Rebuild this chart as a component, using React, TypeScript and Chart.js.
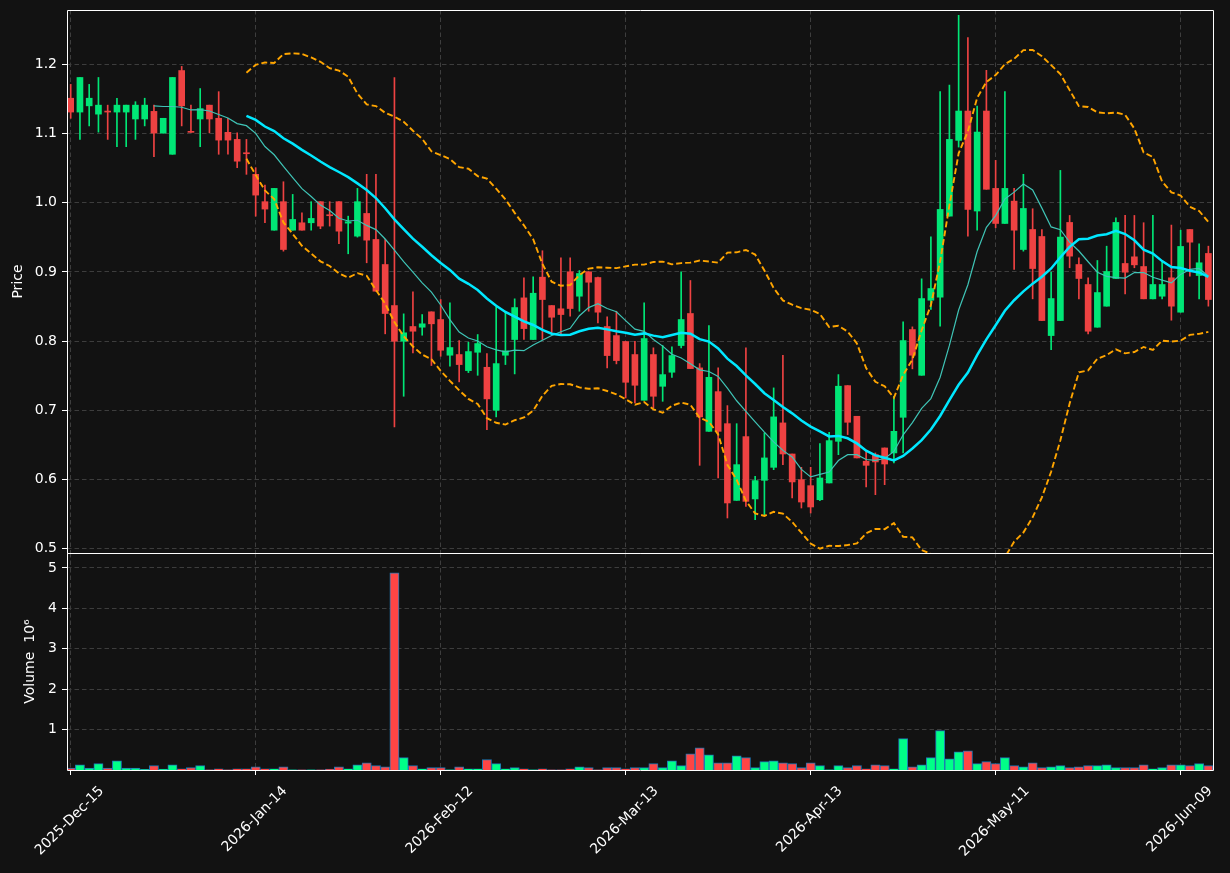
import React, { useEffect, useRef } from 'react';
import { Chart, registerables } from 'chart.js';

Chart.register(...registerables);

// ---------------- data ----------------
const opens = [
  1.151, 1.131, 1.140, 1.128, 1.132, 1.131, 1.131, 1.121, 1.121, 1.132,
  1.1006, 1.070, 1.191, 1.1025, 1.121, 1.141, 1.122, 1.1017, 1.0915, 1.071,
  1.041, 1.0015, 0.9603, 1.0015, 0.9603, 0.971, 0.971, 1.0015, 0.9818, 1.0015,
  0.9705, 0.9517, 0.9845, 0.9469, 0.9107, 0.8514, 0.7998, 0.8211, 0.8201, 0.8423,
  0.8312, 0.7796, 0.7806, 0.7574, 0.7839, 0.7622, 0.700, 0.7796, 0.8023, 0.8625,
  0.8023, 0.8924, 0.8514, 0.8467, 0.9002, 0.8649, 0.9002, 0.8919, 0.8211, 0.808,
  0.7994, 0.7806, 0.7145, 0.7806, 0.7347, 0.755, 0.7936, 0.8399, 0.7613, 0.6696,
  0.727, 0.6807, 0.5698, 0.662, 0.5719, 0.5988, 0.6176, 0.6818, 0.6369, 0.5998,
  0.5911, 0.5708, 0.595, 0.6552, 0.7357, 0.6914, 0.6264, 0.6359, 0.6456, 0.6384,
  0.6899, 0.8167, 0.7506, 0.8591, 0.8635, 0.9806, 1.0901, 1.1325, 0.988, 1.1325,
  1.0207, 0.970, 1.0023, 0.9324, 0.9613, 0.9512, 0.808, 0.8297, 0.9715, 0.9107,
  0.8818, 0.8201, 0.8505, 0.8905, 0.9122, 0.9218, 0.9078, 0.8611, 0.8649, 0.8915,
  0.8418, 0.9613, 0.8948, 0.9267,
];
const highs = [
  1.171, 1.181, 1.171, 1.181, 1.141, 1.151, 1.141, 1.146, 1.151, 1.141,
  1.122, 1.181, 1.197, 1.141, 1.165, 1.141, 1.1605, 1.122, 1.101, 1.0915,
  1.0506, 1.0254, 1.0207, 1.0303, 1.012, 0.9855, 1.0015, 1.0015, 1.0015, 1.0015,
  0.9806, 1.0207, 1.041, 1.041, 0.9469, 1.1808, 0.8394, 0.8713, 0.8384, 0.8423,
  0.8601, 0.8553, 0.8008, 0.7984, 0.8095, 0.7821, 0.8495, 0.8432, 0.8611, 0.8915,
  0.893, 0.9306, 0.8514, 0.9204, 0.9204, 0.902, 0.9002, 0.8924, 0.8351, 0.8432,
  0.7994, 0.7998, 0.8553, 0.7903, 0.7936, 0.7917, 0.9002, 0.8876, 0.7675, 0.8225,
  0.7613, 0.7068, 0.6807, 0.7903, 0.6046, 0.6673, 0.7324, 0.7796, 0.6369, 0.6176,
  0.6176, 0.6518, 0.6682, 0.7516, 0.7357, 0.6914, 0.6408, 0.6384, 0.6456, 0.7203,
  0.8279, 0.8206, 0.89, 0.9508, 1.1605, 1.17, 1.2708, 1.2386, 1.1397, 1.1913,
  1.0612, 1.1605, 1.0207, 1.041, 0.9913, 0.9613, 0.8996, 1.0467, 0.9816, 0.9204,
  0.8915, 0.9165, 0.9372, 0.9783, 0.9816, 0.9816, 0.9711, 0.9816, 0.9155, 0.9677,
  0.9603, 0.9613, 0.9407, 0.9372,
];
const lows = [
  1.122, 1.0915, 1.111, 1.102, 1.0915, 1.081, 1.081, 1.0915, 1.111, 1.0665,
  1.1006, 1.070, 1.111, 1.1017, 1.081, 1.101, 1.070, 1.070, 1.0506, 1.041,
  0.9806, 0.971, 0.9603, 0.930, 0.9603, 0.9603, 0.9603, 0.9624, 0.9662, 0.9407,
  0.9262, 0.9503, 0.9132, 0.8721, 0.8105, 0.676, 0.7203, 0.783, 0.8085, 0.7647,
  0.7781, 0.7637, 0.7411, 0.7545, 0.7506, 0.672, 0.6905, 0.7661, 0.7526, 0.8023,
  0.8023, 0.8023, 0.8109, 0.8109, 0.8359, 0.8432, 0.8432, 0.8264, 0.7613, 0.7671,
  0.7179, 0.7107, 0.7145, 0.7035, 0.713, 0.7477, 0.7903, 0.7603, 0.6205, 0.6696,
  0.6022, 0.5444, 0.5698, 0.5612, 0.5419, 0.5491, 0.6142, 0.6215, 0.5733, 0.5588,
  0.5516, 0.5694, 0.595, 0.6359, 0.6649, 0.6312, 0.5892, 0.5781, 0.5925, 0.6239,
  0.6384, 0.7599, 0.7506, 0.8457, 0.8215, 0.9806, 1.0804, 0.9517, 0.9603, 1.0194,
  0.9638, 0.970, 0.9035, 0.930, 0.8611, 0.8297, 0.7878, 0.8297, 0.906, 0.8611,
  0.8105, 0.8201, 0.8505, 0.8905, 0.8683, 0.906, 0.8611, 0.8611, 0.8611, 0.8302,
  0.8418, 0.8939, 0.8611, 0.8505,
];
const closes = [
  1.131, 1.181, 1.151, 1.141, 1.131, 1.141, 1.141, 1.141, 1.141, 1.1006,
  1.122, 1.181, 1.140, 1.1017, 1.136, 1.121, 1.0905, 1.0905, 1.060, 1.0708,
  1.011, 0.9908, 1.0207, 0.9324, 0.9758, 0.9603, 0.9773, 0.9662, 0.9812, 0.9589,
  0.9725, 1.0015, 0.9459, 0.8721, 0.8399, 0.7998, 0.812, 0.8143, 0.825, 0.825,
  0.7868, 0.7907, 0.7661, 0.7849, 0.7965, 0.7165, 0.7675, 0.7859, 0.8485, 0.8181,
  0.8692, 0.8601, 0.8345, 0.8384, 0.8471, 0.8977, 0.8851, 0.8418, 0.7791, 0.7719,
  0.7405, 0.7362, 0.8037, 0.7203, 0.7516, 0.7791, 0.8312, 0.7603, 0.6905, 0.7477,
  0.6696, 0.5661, 0.6215, 0.5684, 0.5984, 0.6312, 0.6905, 0.6369, 0.5965, 0.5675,
  0.5603, 0.6022, 0.6562, 0.7348, 0.6827, 0.6312, 0.6205, 0.6254, 0.6224, 0.6696,
  0.8008, 0.7796, 0.8615, 0.876, 0.9903, 1.0915, 1.1325, 0.9903, 1.1021, 1.0194,
  0.970, 1.0207, 0.9603, 0.9917, 0.9049, 0.8297, 0.8615, 0.9503, 0.9228, 0.8905,
  0.8143, 0.8702, 0.9006, 0.9715, 0.8996, 0.9102, 0.8611, 0.8818, 0.8818, 0.8505,
  0.9368, 0.943, 0.9132, 0.8601,
];
// volume in units of 10^6
const volumes = [
  0.05, 0.13, 0.05, 0.16, 0.05, 0.23, 0.05, 0.05, 0.02, 0.11,
  0.025, 0.13, 0.035, 0.06, 0.11, 0.01, 0.035, 0.01, 0.035, 0.035,
  0.08, 0.035, 0.035, 0.08, 0.01, 0.01, 0.01, 0.01, 0.025, 0.08,
  0.035, 0.13, 0.18, 0.11, 0.08, 4.88, 0.31, 0.11, 0.035, 0.06,
  0.06, 0.01, 0.08, 0.035, 0.035, 0.26, 0.16, 0.035, 0.06, 0.035,
  0.01, 0.035, 0.01, 0.01, 0.035, 0.08, 0.06, 0.01, 0.06, 0.06,
  0.035, 0.06, 0.06, 0.16, 0.06, 0.23, 0.11, 0.40, 0.55, 0.38,
  0.18, 0.18, 0.355, 0.31, 0.06, 0.21, 0.23, 0.18, 0.16, 0.06,
  0.18, 0.11, 0.01, 0.11, 0.06, 0.11, 0.035, 0.13, 0.11, 0.035,
  0.78, 0.08, 0.13, 0.31, 0.975, 0.28, 0.455, 0.48, 0.16, 0.21,
  0.16, 0.31, 0.11, 0.08, 0.18, 0.06, 0.08, 0.11, 0.06, 0.08,
  0.11, 0.11, 0.13, 0.06, 0.06, 0.06, 0.13, 0.035, 0.06, 0.13,
  0.13, 0.11, 0.16, 0.11,
];
const xTickIndex = [0, 20, 40, 60, 80, 100, 120];
const xTickLabels = ['2025-Dec-15', '2026-Jan-14', '2026-Feb-12', '2026-Mar-13', '2026-Apr-13', '2026-May-11', '2026-Jun-09'];
const priceTicks = [0.5, 0.6, 0.7, 0.8, 0.9, 1.0, 1.1, 1.2];
const volumeTicks = [1, 2, 3, 4, 5];
const maShort = 10;
const maLong = 20;

// ---------------- styling ----------------
const BG = '#121212';
const GRID = '#3d3d3d';
const UP = '#00e676';
const DOWN = '#ee4242';
const VUP = '#00ff88';
const VDOWN = '#ff4545';
const FONT = '"DejaVu Sans", sans-serif';

Chart.defaults.font.family = FONT;
Chart.defaults.font.size = 14;
Chart.defaults.color = '#ffffff';

function sma(arr: number[], n: number) {
  return arr.map((_, i) => {
    if (i < n - 1) return null;
    let s = 0;
    for (let k = i - n + 1; k <= i; k++) s += arr[k];
    return s / n;
  });
}
function stdev(arr: number[], n: number) {
  return arr.map((_, i) => {
    if (i < n - 1) return null;
    let s = 0;
    for (let k = i - n + 1; k <= i; k++) s += arr[k];
    const m = s / n;
    let v = 0;
    for (let k = i - n + 1; k <= i; k++) v += (arr[k] - m) * (arr[k] - m);
    return Math.sqrt(v / n);
  });
}
const pts = (arr: (number | null)[]) =>
  arr.map((v, i) => (v === null ? null : { x: i, y: v })).filter((p) => p !== null);

const spines = {
  id: 'spines',
  afterDraw(chart: any) {
    const { ctx, chartArea } = chart;
    const { left, right, top, bottom } = chartArea;
    ctx.save();
    ctx.strokeStyle = '#ffffff';
    ctx.lineWidth = 1;
    ctx.beginPath();
    ctx.rect(Math.round(left) + 0.5, Math.round(top) + 0.5, Math.round(right - left), Math.round(bottom - top));
    ctx.stroke();
    ctx.restore();
  },
};

const xLabels = {
  id: 'xLabels',
  afterDraw(chart: any) {
    const { ctx, chartArea } = chart;
    const xs = chart.scales.x;
    ctx.save();
    ctx.font = '14px ' + FONT;
    ctx.fillStyle = '#ffffff';
    ctx.textAlign = 'center';
    ctx.textBaseline = 'middle';
    xTickIndex.forEach((v, k) => {
      const label = xTickLabels[k];
      const w = ctx.measureText(label).width;
      const px = xs.getPixelForValue(v) - 1;
      const cy = chartArea.bottom + 15 + (w + 11) * Math.SQRT1_2 / 2;
      ctx.save();
      ctx.translate(px, cy);
      ctx.rotate(-Math.PI / 4);
      ctx.fillText(label, 0, 0);
      ctx.restore();
    });
    ctx.restore();
  },
};

const XMIN = -0.4;
const XMAX = 123.5;

export default function App() {
  const mainRef = useRef<HTMLCanvasElement>(null);
  const volRef = useRef<HTMLCanvasElement>(null);

  useEffect(() => {
    const candleColor = closes.map((c, i) => (c >= opens[i] ? UP : DOWN));
    const volColor = closes.map((c, i) => (c >= opens[i] ? VUP : VDOWN));
    const m10 = sma(closes, maShort);
    const m20 = sma(closes, maLong);
    const sd = stdev(closes, maLong);
    const upper = m20.map((m, i) => (m === null ? null : m + 2 * (sd[i] as number)));
    const lower = m20.map((m, i) => (m === null ? null : m - 2 * (sd[i] as number)));

    const yFit = (w: number) => (s: any) => {
      s.width = w;
      s.paddingTop = 0;
      s.paddingBottom = 0;
    };

    const main = new Chart(mainRef.current as HTMLCanvasElement, {
      type: 'bar',
      data: {
        datasets: [
          {
            type: 'line',
            data: pts(upper) as any,
            borderColor: '#ffa500',
            borderWidth: 1.9,
            borderDash: [6, 3],
            pointRadius: 0,
            tension: 0,
            order: 1,
          },
          {
            type: 'line',
            data: pts(lower) as any,
            borderColor: '#ffa500',
            borderWidth: 1.9,
            borderDash: [6, 3],
            pointRadius: 0,
            tension: 0,
            order: 1,
          },
          {
            type: 'line',
            data: pts(m20) as any,
            borderColor: '#00e8ff',
            borderWidth: 2.5,
            pointRadius: 0,
            tension: 0,
            order: 2,
          },
          {
            type: 'line',
            data: pts(m10) as any,
            borderColor: '#3fc4b6',
            borderWidth: 1.2,
            pointRadius: 0,
            tension: 0,
            order: 3,
          },
          {
            type: 'bar',
            data: closes.map((c, i) => ({ x: i, y: [opens[i], c] })) as any,
            backgroundColor: candleColor,
            borderWidth: 0,
            barThickness: 6,
            minBarLength: 1,
            grouped: false,
            order: 4,
          },
          {
            type: 'bar',
            data: closes.map((_, i) => ({ x: i, y: [lows[i], highs[i]] })) as any,
            backgroundColor: candleColor,
            borderWidth: 0,
            barThickness: 1,
            grouped: false,
            order: 5,
          },
        ],
      },
      options: {
        responsive: false,
        animation: false,
        devicePixelRatio: 1,
        events: [],
        layout: { padding: { left: 0, right: 17, top: 10, bottom: 17 } },
        plugins: { legend: { display: false }, tooltip: { enabled: false } },
        scales: {
          x: {
            type: 'linear',
            min: XMIN,
            max: XMAX,
            offset: false,
            afterBuildTicks: (s: any) => {
              s.ticks = xTickIndex.map((v) => ({ value: v }));
            },
            afterFit: (s: any) => {
              s.height = 0;
              s.paddingLeft = 0;
              s.paddingRight = 0;
            },
            ticks: { display: false },
            grid: { color: GRID, lineWidth: 1, drawTicks: false, offset: false },
            border: { display: false, dash: [4.5, 3] },
          },
          y: {
            type: 'linear',
            min: 0.4938,
            max: 1.2785,
            afterBuildTicks: (s: any) => {
              s.ticks = priceTicks.map((v) => ({ value: v }));
            },
            afterFit: yFit(67),
            ticks: {
              color: '#ffffff',
              padding: 5,
              font: { size: 14 },
              callback: (v: any) => Number(v).toFixed(1),
            },
            grid: { color: GRID, lineWidth: 1, drawTicks: true, tickLength: 5, tickColor: '#ffffff' },
            border: { display: false, dash: [4.5, 3] },
            title: {
              display: true,
              text: 'Price',
              color: '#ffffff',
              font: { size: 14 },
              padding: { top: 9.6, bottom: 0 },
            },
          },
        },
      },
      plugins: [spines],
    } as any);

    const vmin = 0.3 * Math.min(...volumes);
    const vmax = 1.1 * Math.max(...volumes);

    const vol = new Chart(volRef.current as HTMLCanvasElement, {
      type: 'bar',
      data: {
        datasets: [
          {
            data: volumes.map((v, i) => ({ x: i, y: v })) as any,
            backgroundColor: volColor,
            borderColor: '#1f77b4',
            borderWidth: 1,
            barThickness: 9.2,
            grouped: false,
          },
        ],
      },
      options: {
        responsive: false,
        animation: false,
        devicePixelRatio: 1,
        events: [],
        layout: { padding: { left: 0, right: 17, top: 0, bottom: 0 } },
        plugins: { legend: { display: false }, tooltip: { enabled: false } },
        scales: {
          x: {
            type: 'linear',
            min: XMIN,
            max: XMAX,
            offset: false,
            afterBuildTicks: (s: any) => {
              s.ticks = xTickIndex.map((v) => ({ value: v }));
            },
            afterFit: (s: any) => {
              s.height = 103;
              s.paddingLeft = 0;
              s.paddingRight = 0;
            },
            ticks: { display: false },
            grid: { color: GRID, lineWidth: 1, drawTicks: true, tickLength: 5, tickColor: '#ffffff', offset: false },
            border: { display: false, dash: [4.5, 3] },
          },
          y: {
            type: 'linear',
            min: vmin,
            max: vmax,
            afterBuildTicks: (s: any) => {
              s.ticks = volumeTicks.map((v) => ({ value: v }));
            },
            afterFit: yFit(67),
            ticks: {
              color: '#ffffff',
              padding: 5,
              font: { size: 14 },
              callback: (v: any) => String(Math.round(Number(v))),
            },
            grid: { color: GRID, lineWidth: 1, drawTicks: true, tickLength: 5, tickColor: '#ffffff' },
            border: { display: false, dash: [4.5, 3] },
            title: {
              display: true,
              text: 'Volume  10⁶',
              color: '#ffffff',
              font: { size: 14 },
              padding: { top: 21.6, bottom: 0 },
            },
          },
        },
      },
      plugins: [spines, xLabels],
    } as any);

    return () => {
      main.destroy();
      vol.destroy();
    };
  }, []);

  return (
    <div
      style={{
        position: 'fixed',
        left: 0,
        top: 0,
        width: 1230,
        height: 873,
        background: BG,
        overflow: 'hidden',
      }}
    >
      <canvas
        ref={mainRef}
        width={1230}
        height={570}
        style={{ position: 'absolute', left: 0, top: 0, width: 1230, height: 570 }}
      />
      <canvas
        ref={volRef}
        width={1230}
        height={320}
        style={{ position: 'absolute', left: 0, top: 553, width: 1230, height: 320 }}
      />
    </div>
  );
}
